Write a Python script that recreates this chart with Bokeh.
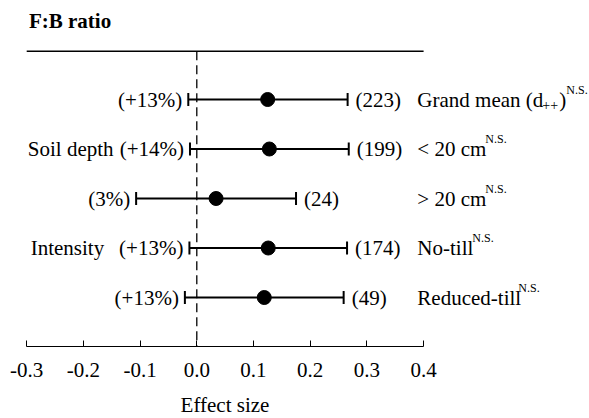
from bokeh.plotting import figure
from bokeh.models import (ColumnDataSource, Range1d, FixedTicker, PrintfTickFormatter,
                          Whisker, TeeHead, LinearAxis)
from bokeh.core.properties import value
from bokeh.embed import file_html
from bokeh.resources import INLINE

# ---- data ----
categories = ["Grand mean (d", "< 20 cm", "> 20 cm", "No-till", "Reduced-till"]
effect = [0.125, 0.128, 0.034, 0.126, 0.119]
ci_low = [-0.015, -0.012, -0.107, -0.013, -0.021]
ci_high = [0.266, 0.268, 0.175, 0.265, 0.259]
pct_labels = ["(+13%)", "(+14%)", "(3%)", "(+13%)", "(+13%)"]
n_labels = ["(223)", "(199)", "(24)", "(174)", "(49)"]
groups = ["Soil depth", "Intensity"]
group_rows = [1, 3]
x_ticks = [-0.3, -0.2, -0.1, 0.0, 0.1, 0.2, 0.3, 0.4]

rows = list(range(len(categories)))
FONT = "Liberation Serif"
FS = "21px"

# layout helpers (pixel offsets for superscripts after each label)
sup_dx = [149, 68, 68, 55, 101]

src = ColumnDataSource(dict(row=rows, effect=effect, lo=ci_low, hi=ci_high,
                            pct=pct_labels, n=n_labels, cat=categories,
                            sup=["N.S."] * len(rows), sup_dx=sup_dx,
                            lab_x=[0.389] * len(rows)))

AXIS_Y = 4.99
p = figure(width=589, height=418, output_backend="svg", toolbar_location=None,
           x_range=Range1d(-0.3462, 0.6926), y_range=Range1d(6.444, -2.0),
           y_axis_location=None, x_axis_location=None,
           min_border_left=0, min_border_right=0, min_border_top=0, min_border_bottom=0)
p.grid.visible = False
p.outline_line_color = None
p.background_fill_color = "white"
p.border_fill_color = "white"

ax = LinearAxis(fixed_location=AXIS_Y)
p.add_layout(ax, "below")
ax.bounds = (-0.3, 0.4)
ax.ticker = FixedTicker(ticks=x_ticks)
ax.formatter = PrintfTickFormatter(format="%.1f")
ax.major_tick_in = 6
ax.major_tick_out = 0
ax.minor_tick_line_color = None
ax.axis_line_color = "black"
ax.major_tick_line_color = "black"
ax.major_label_text_font = FONT
ax.major_label_text_font_size = FS
ax.major_label_text_color = "black"
ax.major_label_standoff = 16
ax.axis_label = "Effect size"
ax.axis_label_text_font = FONT
ax.axis_label_text_font_size = FS
ax.axis_label_text_font_style = "normal"
ax.axis_label_text_color = "black"
ax.axis_label_standoff = 13

# top rule and zero reference line
p.segment(x0=[-0.3], x1=[0.4], y0=[-0.976], y1=[-0.976], line_color="black", line_width=1.5)
p.segment(x0=[0], x1=[0], y0=[-0.976], y1=[AXIS_Y], line_color="black", line_width=1.3,
          line_dash="9 5")

# error bars
w = Whisker(source=src, base="row", lower="lo", upper="hi", dimension="width",
            line_color="black", line_width=2,
            lower_head=TeeHead(size=13, line_width=2, line_color="black"),
            upper_head=TeeHead(size=13, line_width=2, line_color="black"))
p.add_layout(w)
p.scatter("effect", "row", source=src, size=14, color="black")

# labels
p.text(x="lo", y="row", text="pct", source=src, x_offset=-6, text_align="right",
       text_baseline="middle", text_font=value(FONT), text_font_size=FS, text_color="black")
p.text(x="hi", y="row", text="n", source=src, x_offset=8, text_align="left",
       text_baseline="middle", text_font=value(FONT), text_font_size=FS, text_color="black")
p.text(x="lab_x", y="row", text="cat", source=src, text_align="left",
       text_baseline="middle", text_font=value(FONT), text_font_size=FS, text_color="black")
p.text(x="lab_x", y="row", text="sup", source=src, x_offset="sup_dx", y_offset=-10,
       text_align="left", text_baseline="middle", text_font=value(FONT),
       text_font_size="12px", text_color="black")
# subscript ++ and closing paren of the grand mean label
p.text(x=[0.389], y=[0], text=["++"], x_offset=125, y_offset=5, text_align="left",
       text_baseline="middle", text_font=value(FONT), text_font_size="14px", text_color="black")
p.text(x=[0.389], y=[0], text=[")"], x_offset=142, text_align="left",
       text_baseline="middle", text_font=value(FONT), text_font_size=FS, text_color="black")

# group labels
p.text(x=[-0.298, -0.293], y=group_rows, text=groups, text_align="left",
       text_baseline="middle", text_font=value(FONT), text_font_size=FS, text_color="black")

# title
p.text(x=[-0.296], y=[-1.576], text=["F:B ratio"], text_align="left", text_baseline="middle",
       text_font=value(FONT), text_font_size=FS, text_font_style="bold", text_color="black")

open("out.html", "w").write(file_html(p, INLINE))
